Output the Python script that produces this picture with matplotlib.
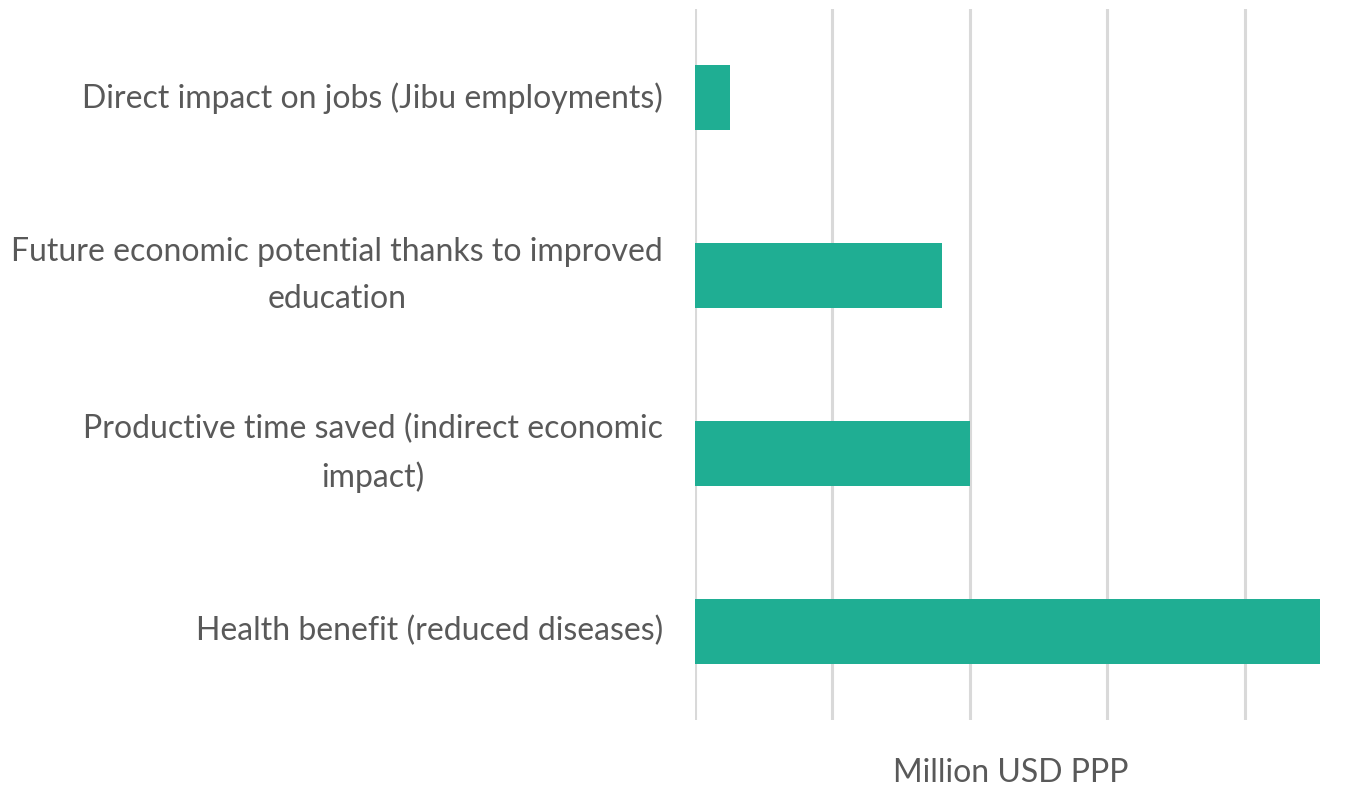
import matplotlib.pyplot as plt

categories = [
    "Direct impact on jobs (Jibu employments)",
    "Future economic potential thanks to improved\neducation",
    "Productive time saved (indirect economic\nimpact)",
    "Health benefit (reduced diseases)",
]
values = [0.255, 1.80, 2.0, 4.55]

plt.rcParams['font.family'] = ['Lato', 'DejaVu Sans']

fig = plt.figure(figsize=(13.6, 7.87), dpi=100, facecolor='white')
ax = fig.add_axes([0.511, 0.085, 0.465, 0.9035])

pos = list(range(len(categories)))
ax.barh(pos, values, height=0.365, color='#1fae93', zorder=3)
ax.set_ylim(len(categories) - 0.5, -0.5)
ax.set_xlim(0, 4.6)

ax.set_xticks([0, 1, 2, 3, 4])
ax.set_xticklabels([])
ax.grid(axis='x', color='#d9d9d9', linewidth=2.2, zorder=0)
ax.tick_params(axis='both', length=0)

ax.set_yticks(pos)
ax.set_yticklabels(categories, fontsize=23, color='#595959',
                   multialignment='center', linespacing=1.7, va='center')
ax.tick_params(axis='y', pad=23)

for s in ax.spines.values():
    s.set_visible(False)

ax.set_xlabel("Million USD PPP", fontsize=23, color='#595959', labelpad=24)

fig.savefig("out.png", dpi=100, facecolor='white')
